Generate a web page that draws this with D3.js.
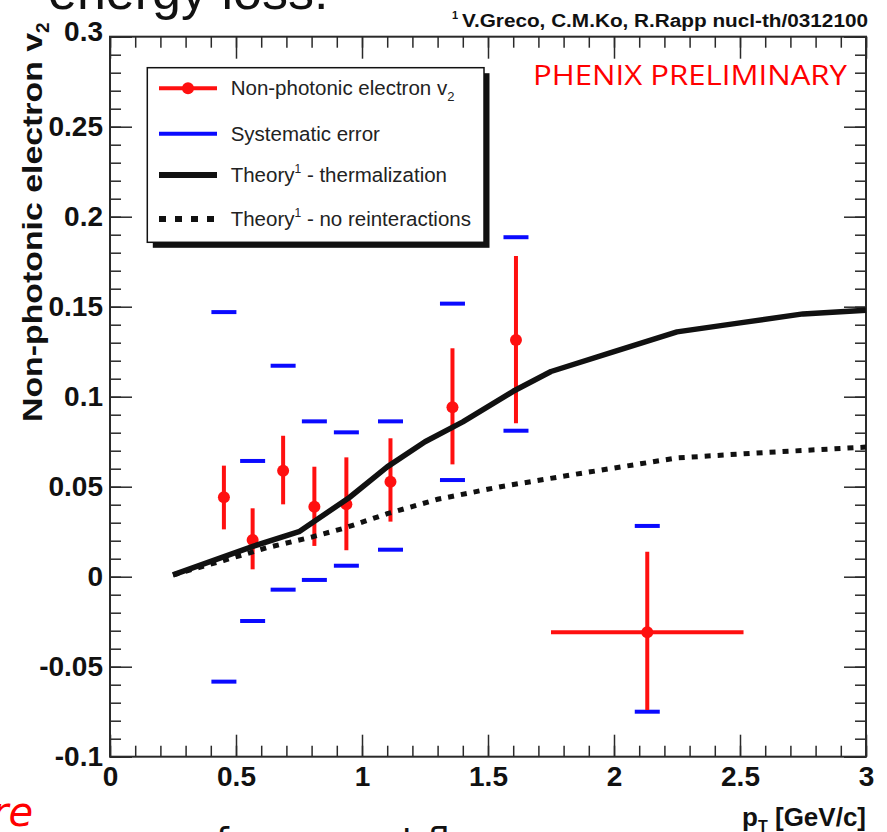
<!DOCTYPE html>
<html><head><meta charset="utf-8">
<script src="https://cdn.jsdelivr.net/npm/d3@7"></script>
<style>
html,body{margin:0;padding:0;background:#fff;overflow:hidden;}
svg{display:block;}
</style></head>
<body>
<svg id="chart" width="887" height="832"></svg>
<script>
// ---- data ----
const pT      = [0.452, 0.566, 0.687, 0.811, 0.938, 1.113, 1.359, 1.611, 2.132];
const v2      = [0.0441, 0.0204, 0.0589, 0.0389, 0.0402, 0.0528, 0.0941, 0.1315, -0.0309];
const statHi  = [0.0617, 0.0380, 0.0783, 0.0611, 0.0663, 0.0769, 0.1269, 0.1782, 0.0139];
const statLo  = [0.0263, 0.0041, 0.0402, 0.0171, 0.0147, 0.0306, 0.0624, 0.0852, -0.0741];
const sysHi   = [0.1470, 0.0643, 0.1172, 0.0863, 0.0802, 0.0863, 0.1517, 0.1886, 0.0282];
const sysLo   = [-0.0583, -0.0246, -0.0072, -0.0018, 0.0061, 0.0150, 0.0537, 0.0811, -0.0750];
const pTErr   = [0, 0, 0, 0, 0, 0, 0, 0, 0.382];

const thermP  = [0.25, 0.45, 0.57, 0.75, 0.95, 1.10, 1.25, 1.40, 1.60, 1.75, 2.00, 2.25, 2.50, 2.75, 3.00];
const thermV  = [0.001, 0.011, 0.017, 0.025, 0.044, 0.061, 0.075, 0.086, 0.103, 0.114, 0.125, 0.136, 0.141, 0.146, 0.148];
const noIntP  = [0.25, 0.45, 0.62, 0.80, 0.93, 1.10, 1.30, 1.55, 1.85, 2.25, 2.60, 3.00];
const noIntV  = [0.001, 0.009, 0.016, 0.022, 0.027, 0.035, 0.043, 0.050, 0.057, 0.066, 0.069, 0.072];

const xMajorTicks = [0, 0.5, 1, 1.5, 2, 2.5, 3];
const xMinorTicks = d3.range(0, 3.0001, 0.1);
const yMajorTicks = [-0.1, -0.05, 0, 0.05, 0.1, 0.15, 0.2, 0.25, 0.3];
const yMinorTicks = d3.range(-0.1, 0.30001, 0.01);
const xTickLabels = ["0", "0.5", "1", "1.5", "2", "2.5", "3"];
const yTickLabels = ["-0.1", "-0.05", "0", "0.05", "0.1", "0.15", "0.2", "0.25", "0.3"];

const legendLabels = ["Non-photonic electron v", "Systematic error", "Theory", "Theory"];

// ---- layout ----
const svg = d3.select("#chart");
const L = 110, R = 866, T = 36.7, B = 756.7;
const x = d3.scaleLinear().domain([0, 3]).range([L, R]);
const y = d3.scaleLinear().domain([-0.1, 0.3]).range([B, T]);
const RED = "#ff1010", BLUE = "#0a0aff", AX = "#2a2a2a";
const FONT = "'Liberation Sans', Arial, Helvetica, sans-serif";

// clipped stray texts from the slide
svg.append("text").attr("x", 48).attr("y", 9)
  .attr("font-family", FONT).attr("font-size", 52).attr("fill", "#111")
  .text("energy loss:");
svg.append("text").attr("x", -8).attr("y", 826)
  .attr("font-family", "'DejaVu Sans', sans-serif").attr("font-style", "italic")
  .attr("font-size", 40).attr("fill", "#ff0000").text("re");
svg.append("text").attr("x", 100).attr("y", 853)
  .attr("font-family", "'DejaVu Sans', sans-serif").attr("font-size", 36).attr("fill", "#111")
  .text("~ sa of a mass at flow");

// citation
const cit = svg.append("text").attr("x", 452).attr("y", 27)
  .attr("font-family", FONT).attr("font-weight", "bold").attr("font-size", 18).attr("fill", "#111");
cit.append("tspan").attr("font-size", 11).attr("dy", -8).text("1");
cit.append("tspan").attr("x", 462).attr("dy", 8).attr("textLength", 406).attr("lengthAdjust", "spacingAndGlyphs")
  .text("V.Greco, C.M.Ko, R.Rapp nucl-th/0312100");

// axes ticks (inward) on all four sides
function styleAxis(g) {
  g.select(".domain").remove();
  g.selectAll(".tick line").attr("stroke", AX).attr("stroke-width", 1.5);
}
svg.append("g").attr("transform", `translate(0,${B})`)
  .call(d3.axisBottom(x).tickValues(xMinorTicks).tickSize(-11).tickFormat(""))
  .call(styleAxis);
svg.append("g").attr("transform", `translate(0,${T})`)
  .call(d3.axisTop(x).tickValues(xMinorTicks).tickSize(-11).tickFormat(""))
  .call(styleAxis);
svg.append("g").attr("transform", `translate(${L},0)`)
  .call(d3.axisLeft(y).tickValues(yMinorTicks).tickSize(-11).tickFormat(""))
  .call(styleAxis);
svg.append("g").attr("transform", `translate(${R},0)`)
  .call(d3.axisRight(y).tickValues(yMinorTicks).tickSize(-11).tickFormat(""))
  .call(styleAxis);

const xb = svg.append("g").attr("transform", `translate(0,${B})`)
  .call(d3.axisBottom(x).tickValues(xMajorTicks).tickSize(-22).tickPadding(9)
    .tickFormat((d, i) => xTickLabels[i]))
  .call(styleAxis);
svg.append("g").attr("transform", `translate(0,${T})`)
  .call(d3.axisTop(x).tickValues(xMajorTicks).tickSize(-22).tickFormat(""))
  .call(styleAxis);
const yl = svg.append("g").attr("transform", `translate(${L},0)`)
  .call(d3.axisLeft(y).tickValues(yMajorTicks).tickSize(-22).tickPadding(7)
    .tickFormat((d, i) => yTickLabels[i]))
  .call(styleAxis);
svg.append("g").attr("transform", `translate(${R},0)`)
  .call(d3.axisRight(y).tickValues(yMajorTicks).tickSize(-22).tickFormat(""))
  .call(styleAxis);
[xb, yl].forEach(g => g.selectAll(".tick text")
  .attr("font-family", FONT).attr("font-weight", "bold").attr("font-size", 28).attr("fill", "#111"));
yl.selectAll(".tick text").filter(d => d === 0.3).attr("dy", "0.15em");

// frame
svg.append("rect").attr("x", L).attr("y", T).attr("width", R - L).attr("height", B - T)
  .attr("fill", "none").attr("stroke", AX).attr("stroke-width", 2);

// axis titles
const xt = svg.append("text").attr("x", R).attr("y", 826).attr("text-anchor", "end")
  .attr("font-family", FONT).attr("font-weight", "bold").attr("font-size", 26).attr("fill", "#111");
xt.append("tspan").text("p");
xt.append("tspan").attr("font-size", 16).attr("dy", 6).text("T");
xt.append("tspan").attr("dy", -6).text(" [GeV/c]");

const yt = svg.append("text").attr("transform", "translate(42,422) rotate(-90)")
  .attr("font-family", FONT).attr("font-weight", "bold").attr("font-size", 28).attr("fill", "#111");
yt.append("tspan").attr("x", 0).attr("textLength", 389).attr("lengthAdjust", "spacingAndGlyphs")
  .text("Non-photonic electron v");
yt.append("tspan").attr("font-size", 19).attr("dy", 7).text("2");

// PHENIX PRELIMINARY
svg.append("text").attr("x", 533).attr("y", 85)
  .attr("font-family", "'Open Sans', sans-serif").attr("font-size", 28).attr("fill", "#ff0000")
  .attr("textLength", 314).attr("lengthAdjust", "spacingAndGlyphs")
  .text("PHENIX PRELIMINARY");

// data
const idx = d3.range(pT.length);
const plot = svg.append("g");
// systematic error bars
plot.selectAll(".sysHi").data(idx).join("line")
  .attr("x1", i => x(pT[i]) - 12.5).attr("x2", i => x(pT[i]) + 12.5)
  .attr("y1", i => y(sysHi[i])).attr("y2", i => y(sysHi[i]))
  .attr("stroke", BLUE).attr("stroke-width", 4);
plot.selectAll(".sysLo").data(idx).join("line")
  .attr("x1", i => x(pT[i]) - 12.5).attr("x2", i => x(pT[i]) + 12.5)
  .attr("y1", i => y(sysLo[i])).attr("y2", i => y(sysLo[i]))
  .attr("stroke", BLUE).attr("stroke-width", 4);
// stat error bars
plot.selectAll(".stat").data(idx).join("line")
  .attr("x1", i => x(pT[i])).attr("x2", i => x(pT[i]))
  .attr("y1", i => y(statLo[i])).attr("y2", i => y(statHi[i]))
  .attr("stroke", RED).attr("stroke-width", 4);
plot.selectAll(".xerr").data(idx.filter(i => pTErr[i] > 0)).join("line")
  .attr("x1", i => x(pT[i] - pTErr[i])).attr("x2", i => x(pT[i] + pTErr[i]))
  .attr("y1", i => y(v2[i])).attr("y2", i => y(v2[i]))
  .attr("stroke", RED).attr("stroke-width", 4);
plot.selectAll(".pt").data(idx).join("circle")
  .attr("cx", i => x(pT[i])).attr("cy", i => y(v2[i])).attr("r", 6).attr("fill", RED);

// theory curves
const line = d3.line().x(d => x(d[0])).y(d => y(d[1]));
plot.append("path").datum(noIntP.map((p, i) => [p, noIntV[i]])).attr("d", line)
  .attr("fill", "none").attr("stroke", "#111").attr("stroke-width", 5).attr("stroke-dasharray", "6 7");
plot.append("path").datum(thermP.map((p, i) => [p, thermV[i]])).attr("d", line)
  .attr("fill", "none").attr("stroke", "#111").attr("stroke-width", 5.5).attr("stroke-linejoin", "round");

// legend
const lg = svg.append("g");
const lx = 147.3, ly = 67.7, lw = 336.7, lh = 174.6;
lg.append("rect").attr("x", lx + 5.5).attr("y", ly + 5.5).attr("width", lw).attr("height", lh).attr("fill", "#111");
lg.append("rect").attr("x", lx).attr("y", ly).attr("width", lw).attr("height", lh)
  .attr("fill", "#fff").attr("stroke", "#111").attr("stroke-width", 1.5);
const rows = [88.3, 133.7, 175, 219];
const x1 = 159, x2 = 217;
lg.append("line").attr("x1", x1).attr("x2", x2).attr("y1", rows[0]).attr("y2", rows[0]).attr("stroke", RED).attr("stroke-width", 4);
lg.append("circle").attr("cx", (x1 + x2) / 2).attr("cy", rows[0]).attr("r", 6).attr("fill", RED);
lg.append("line").attr("x1", x1).attr("x2", x2).attr("y1", rows[1]).attr("y2", rows[1]).attr("stroke", BLUE).attr("stroke-width", 4);
lg.append("line").attr("x1", x1).attr("x2", x2).attr("y1", rows[2]).attr("y2", rows[2]).attr("stroke", "#111").attr("stroke-width", 6);
lg.append("line").attr("x1", x1).attr("x2", x2 + 4).attr("y1", rows[3]).attr("y2", rows[3]).attr("stroke", "#111").attr("stroke-width", 6).attr("stroke-dasharray", "7 9");
function legText(yy) {
  return lg.append("text").attr("x", 230.7).attr("y", yy + 7)
    .attr("font-family", FONT).attr("font-size", 20.5).attr("fill", "#222");
}
let t0 = legText(rows[0]); t0.append("tspan").text(legendLabels[0]);
t0.append("tspan").attr("font-size", 13).attr("dy", 6).text("2");
legText(rows[1]).text(legendLabels[1]);
let t2 = legText(rows[2]); t2.append("tspan").text(legendLabels[2]);
t2.append("tspan").attr("font-size", 12).attr("dy", -9).text("1");
t2.append("tspan").attr("dy", 9).text(" - thermalization");
let t3 = legText(rows[3]); t3.append("tspan").text(legendLabels[3]);
t3.append("tspan").attr("font-size", 12).attr("dy", -9).text("1");
t3.append("tspan").attr("dy", 9).text(" - no reinteractions");
</script>
</body></html>
